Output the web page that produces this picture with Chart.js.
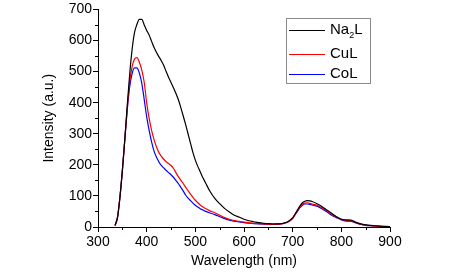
<!DOCTYPE html>
<html>
<head>
<meta charset="utf-8">
<script src="https://cdn.jsdelivr.net/npm/chart.js@4"></script>
<style>
  body { margin: 0; background: #fff; }
  #wrap { width: 456px; height: 277px; }
</style>
</head>
<body>
<div id="wrap"><canvas id="chart1" width="456" height="277"></canvas></div>
<script>
// wavelength grid (nm), shared by all three spectra
const wavelengths = [335,340,345,350,355,360,365,370,375,380,385,390,395,400,405,410,415,420,425,430,435,440,445,450,455,460,465,470,475,480,485,490,495,500,505,510,515,520,
    530,540,550,560,570,580,590,600,610,620,630,640,650,660,670,680,690,700,
    705,710,715,720,725,730,735,740,
    750,760,770,780,790,800,810,820,830,840,850,860,870,880,890,900];

const na2L = [5,30,95,180,280,390,490,570,625,652,668,668,650,632,618,598,578,562,548,535,520,500,482,465,448,430,410,385,358,330,300,270,240,215,195,178,160,145,
    115,92,75,60,48,38,32,25,20,17,14,12,11,10,10,12,17,30,
    42,55,68,78,83,85,84,82,
    75,66,55,44,33,25,23,22,15,10,7,5,4,3,2,1];

const cuL = [5,30,95,180,280,380,465,515,540,545,530,505,465,400,350,312,282,258,240,228,218,210,204,198,189,175,162,151,140,128,117,106,95,86,78,71,65,60,
    52,46,38,30,25,21,18,16,14,12,11,10,9,8,9,11,16,28,
    40,52,64,73,77,78,76,74,
    70,62,52,41,32,25,21,20,14,9,6,4,3,2,1,1];

const coL = [5,30,95,180,280,375,450,493,512,512,495,462,410,355,312,275,245,225,210,198,190,182,175,168,160,150,140,128,116,103,93,85,77,70,64,59,55,51,
    45,40,34,27,22,19,16,14,12,11,10,9,8,8,9,11,16,28,
    40,51,62,70,74,74,73,71,
    67,59,49,38,30,23,19,18,13,8,5,4,3,2,1,1];

const seriesNames = ['Na2L', 'CuL', 'CoL'];
const seriesColors = ['#000000', '#ff0000', '#0000ff'];
const xMinorTicks = [350, 450, 550, 650, 750, 850];
const yMinorTicks = [50, 150, 250, 350, 450, 550, 650];

const FONT = 'Arial, "Liberation Sans", sans-serif';

function toPoints(values) {
    return wavelengths.map((w, i) => ({ x: w, y: values[i] }));
}

// minor ticks + boxed legend with subscript
const extrasPlugin = {
    id: 'extras',
    afterDraw(chart) {
        const c = chart.ctx;
        const xs = chart.scales.x, ys = chart.scales.y;
        const area = chart.chartArea;
        c.save();
        c.strokeStyle = '#000';
        c.lineWidth = 1;
        c.beginPath();
        xMinorTicks.forEach(v => {
            const px = Math.round(xs.getPixelForValue(v)) + 0.5;
            c.moveTo(px, area.bottom);
            c.lineTo(px, area.bottom + 3);
        });
        yMinorTicks.forEach(v => {
            const py = Math.round(ys.getPixelForValue(v)) + 0.5;
            c.moveTo(area.left, py);
            c.lineTo(area.left - 3, py);
        });
        c.stroke();

        // legend
        const bx = 286.5, by = 18.5, bw = 84, bh = 65;
        c.strokeStyle = '#8c8c8c';
        c.strokeRect(bx, by, bw, bh);
        const rows = [30, 54, 74];
        chart.data.datasets.forEach((ds, i) => {
            const y = rows[i];
            c.strokeStyle = ds.borderColor;
            c.lineWidth = 1.2;
            c.beginPath();
            c.moveTo(289, y + 0.5);
            c.lineTo(325, y + 0.5);
            c.stroke();
            c.fillStyle = '#000';
            c.textBaseline = 'middle';
            c.textAlign = 'left';
            c.font = '15px ' + FONT;
            if (ds.label === 'Na2L') {
                c.fillText('Na', 330, y);
                let w = c.measureText('Na').width;
                c.font = '9px ' + FONT;
                c.fillText('2', 330 + w, y + 6);
                let w2 = c.measureText('2').width;
                c.font = '15px ' + FONT;
                c.fillText('L', 330 + w + w2, y);
            } else {
                c.fillText(ds.label, 330, y);
            }
        });
        c.restore();
    }
};

document.addEventListener("DOMContentLoaded", function() {
    const ctx1 = document.getElementById('chart1').getContext('2d');
    new Chart(ctx1, {
        type: 'line',
        data: {
            datasets: [na2L, cuL, coL].map((vals, i) => ({
                label: seriesNames[i],
                data: toPoints(vals),
                borderColor: seriesColors[i],
                backgroundColor: seriesColors[i],
                borderWidth: 1.2,
                pointRadius: 0,
                cubicInterpolationMode: 'monotone',
                fill: false
            }))
        },
        options: {
            responsive: false,
            animation: false,
            layout: { padding: { left: 0, right: 66, top: 9, bottom: 0 } },
            plugins: {
                legend: { display: false },
                tooltip: { enabled: false }
            },
            scales: {
                x: {
                    type: 'linear',
                    min: 300,
                    max: 900,
                    ticks: { stepSize: 100, color: '#000', padding: 2, font: { family: FONT, size: 14 } },
                    grid: { drawOnChartArea: false, drawTicks: true, tickLength: 5, color: '#000' },
                    border: { color: '#000', width: 1 },
                    title: { display: true, text: 'Wavelength (nm)', color: '#000', font: { family: FONT, size: 14 }, padding: { top: 0, bottom: 7 } },
                    afterFit: function(scale) { scale.height = 50; }
                },
                y: {
                    min: 0,
                    max: 700,
                    ticks: { stepSize: 100, color: '#000', padding: 1, font: { family: FONT, size: 14 } },
                    grid: { drawOnChartArea: false, drawTicks: true, tickLength: 5, color: '#000' },
                    border: { color: '#000', width: 1 },
                    title: { display: true, text: 'Intensity (a.u.)', color: '#000', font: { family: FONT, size: 14 }, padding: { top: 41, bottom: 0 } },
                    afterFit: function(scale) { scale.width = 98; }
                }
            }
        },
        plugins: [extrasPlugin]
    });
});
</script>
</body>
</html>
